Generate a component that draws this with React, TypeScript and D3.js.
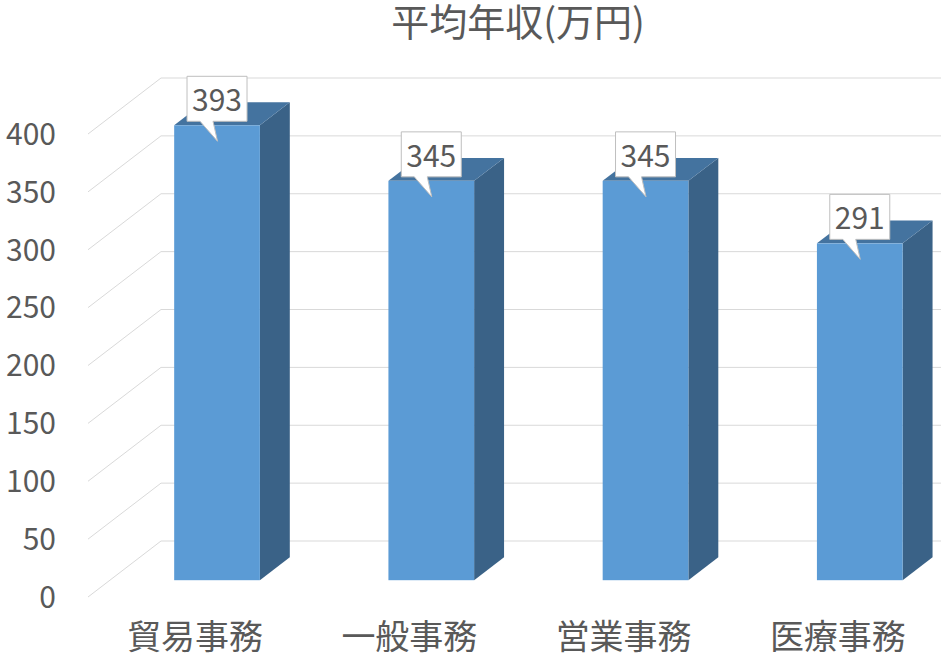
import { FC } from 'react';
import * as d3 from 'd3';

const categories = ['貿易事務', '一般事務', '営業事務', '医療事務'];
const salaries = [393, 345, 345, 291];
const yTicks = [0, 50, 100, 150, 200, 250, 300, 350, 400];
const title = '平均年収(万円)';

const WIDTH = 941;
const HEIGHT = 658;
// depth of the 3d box (back wall offset)
const DEPTH_X = 73;
const DEPTH_Y = 56;
// bar sits between these depth fractions
const BAR_D0 = 0.3;
const BAR_D1 = 0.71;

const LABEL_COLOR = '#595959';
const GRID_COLOR = '#d9d9d9';
const FONT = '"Noto Sans CJK JP", "Noto Sans", sans-serif';

const App: FC = () => {
  const x = d3.scaleBand<string>().domain(categories).range([88, 945]).padding(0);
  const y = d3.scaleLinear().domain([0, 400]).range([597, 134]);

  const barW = x.bandwidth() * 0.4;
  const px = (sx: number, d: number) => sx + d * DEPTH_X;
  const py = (sy: number, d: number) => sy - d * DEPTH_Y;

  return (
    <svg
      width={WIDTH}
      height={HEIGHT}
      style={{ position: 'absolute', left: 0, top: 0, background: '#fff' }}
      fontFamily={FONT}
    >
      <text x={518} y={36} fontSize={38} fill={LABEL_COLOR} textAnchor="middle">
        {title}
      </text>

      {/* gridlines: diagonal side wall + back wall */}
      {yTicks.map((t) => (
        <path
          key={`g${t}`}
          d={`M${88},${y(t)}L${px(88, 1)},${py(y(t), 1)}H${WIDTH}`}
          fill="none"
          stroke={GRID_COLOR}
          strokeWidth={1}
        />
      ))}

      {yTicks.map((t) => (
        <text
          key={`t${t}`}
          x={56}
          y={y(t)}
          dy="0.36em"
          fontSize={30}
          fill={LABEL_COLOR}
          textAnchor="end"
        >
          {t}
        </text>
      ))}

      {categories.map((c, i) => {
        const v = salaries[i];
        const cx = (x(c) ?? 0) + x.bandwidth() / 2;
        const x0 = px(cx - barW / 2, BAR_D0);
        const x1 = px(cx + barW / 2, BAR_D0);
        const yTop = py(y(v), BAR_D0);
        const yBot = py(y(0), BAR_D0);
        const ddx = (BAR_D1 - BAR_D0) * DEPTH_X;
        const ddy = (BAR_D1 - BAR_D0) * DEPTH_Y;
        const mid = (x0 + x1) / 2;
        const boxW = 60;
        const boxBottom = yTop - 4;
        const boxTop = yTop - 49;
        return (
          <g key={c}>
            <path
              d={`M${x1},${yTop}L${x1 + ddx},${yTop - ddy}L${x1 + ddx},${yBot - ddy}L${x1},${yBot}Z`}
              fill="#3a6287"
            />
            <path
              d={`M${x0},${yTop}L${x0 + ddx},${yTop - ddy}L${x1 + ddx},${yTop - ddy}L${x1},${yTop}Z`}
              fill="#44739f"
            />
            <rect x={x0} y={yTop} width={x1 - x0} height={yBot - yTop} fill="#5b9bd5" />
            <path
              d={`M${mid - boxW / 2},${boxTop}H${mid + boxW / 2}V${boxBottom}H${mid - 4}L${mid + 0.5},${yTop + 16}L${mid - 17},${boxBottom}H${mid - boxW / 2}Z`}
              fill="#fff"
              stroke="#bfbfbf"
              strokeWidth={1}
            />
            <text
              x={mid}
              y={boxBottom - 10}
              fontSize={30}
              fill={LABEL_COLOR}
              textAnchor="middle"
            >
              {v}
            </text>
            <text x={cx} y={649} fontSize={34} fill={LABEL_COLOR} textAnchor="middle">
              {c}
            </text>
          </g>
        );
      })}
    </svg>
  );
};

export default App;
